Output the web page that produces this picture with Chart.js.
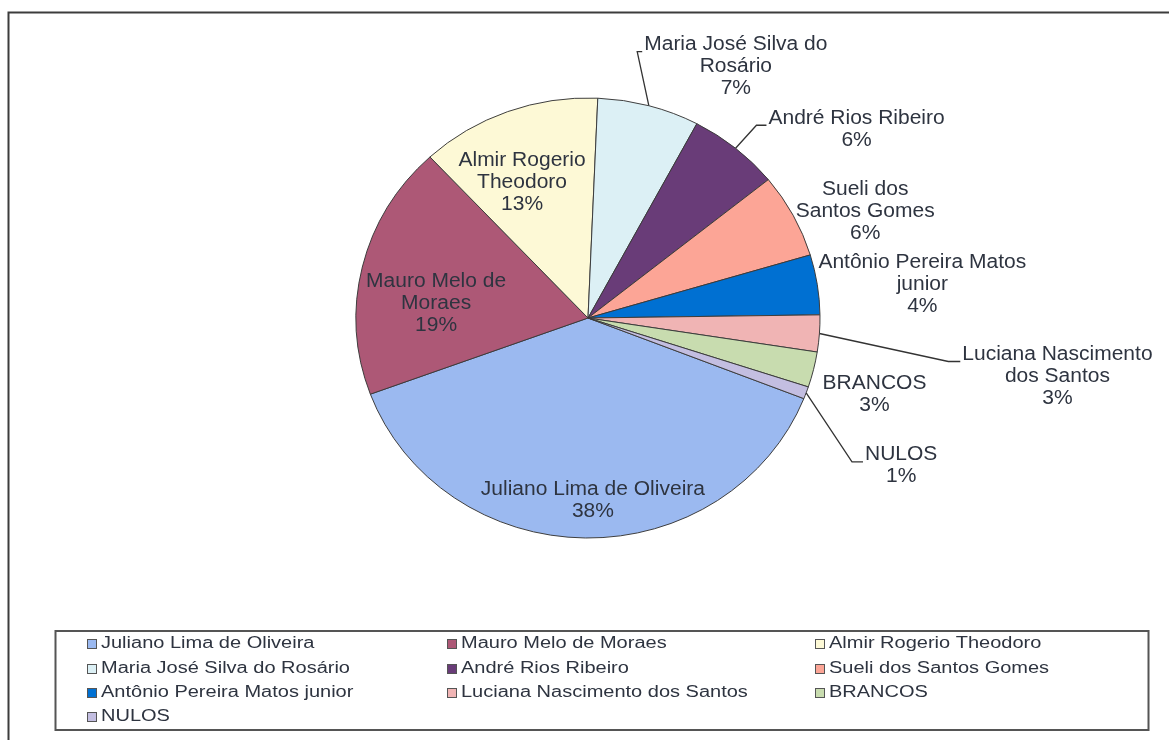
<!DOCTYPE html>
<html>
<head>
<meta charset="utf-8">
<script src="https://cdn.jsdelivr.net/npm/chart.js@4.4.1/dist/chart.umd.min.js"></script>
<style>
    html, body { margin: 0; padding: 0; background: #fff; }
    #wrap { position: relative; width: 1169px; height: 740px; overflow: hidden; }
    canvas { display: block; }
</style>
</head>
<body>
<div id="wrap"><canvas id="pie" width="1169" height="740"></canvas></div>
<script>
// dados da votação (percentuais)
const categories = [
    'Juliano Lima de Oliveira', 'Mauro Melo de Moraes', 'Almir Rogerio Theodoro',
    'Maria José Silva do Rosário', 'André Rios Ribeiro', 'Sueli dos Santos Gomes',
    'Antônio Pereira Matos junior', 'Luciana Nascimento dos Santos', 'BRANCOS', 'NULOS'
];
const values = [38.4, 18.7, 12.6, 7.1, 6.4, 6.2, 4.4, 2.7, 2.6, 0.9];
const colors = [
    '#9bb9f0', '#ad5876', '#fdf9d6', '#dcf0f5', '#693c78',
    '#fca596', '#0070d2', '#f0b4b4', '#c8dcaf', '#c3bee1'
];
// quebras de linha dos rótulos, como no gráfico original
const labelLines = [
    ['Juliano Lima de Oliveira'], ['Mauro Melo de', 'Moraes'], ['Almir Rogerio', 'Theodoro'],
    ['Maria José Silva do', 'Rosário'], ['André Rios Ribeiro'], ['Sueli dos', 'Santos Gomes'],
    ['Antônio Pereira Matos', 'junior'], ['Luciana Nascimento', 'dos Santos'], ['BRANCOS'], ['NULOS']
];

/* -------------------- posição dos rótulos -------------------- */
// [fator do raio, deslocamento x, deslocamento y] a partir do ângulo médio da fatia
const labelPlace = [
    [0.83, 7, 0], [0.673, 0, 20], [0.659, -13, 0],
    [1, 87, -39], [1, 121, -19], [1, 72, -4],
    [1, 105, 0], [1, 238, 43], [1, 61, 25], [1, 95, 73]
];
const leaderHook = [null, null, null, 5, 10, null, null, 12, null, 11]; // linha guia só nas fatias com "leader"

const RX = 232, RY = 220; // a pizza do scan é levemente achatada
const TEXT = '#2e3440';

const total = values.reduce((a, b) => a + b, 0);

function drawBlock(ctx, lines, cx, cy, lh, sx) {
    const top = cy - (lines.length - 1) * lh / 2;
    lines.forEach((t, i) => {
        ctx.save();
        ctx.translate(cx, top + i * lh);
        ctx.scale(sx, 1);
        ctx.fillText(t, 0, 0);
        ctx.restore();
    });
    return top;
}

const pieLook = {
    id: 'pieLook',
    beforeDatasetsDraw(chart) {
        const arc = chart.getDatasetMeta(0).data[0];
        const ctx = chart.ctx;
        ctx.save();
        ctx.translate(arc.x, arc.y);
        ctx.scale(1, RY / RX);
        ctx.translate(-arc.x, -arc.y);
    },
    afterDatasetsDraw(chart) {
        const ctx = chart.ctx;
        ctx.restore();

        const arcs = chart.getDatasetMeta(0).data;
        ctx.save();
        ctx.font = '20px "Liberation Sans", Arial, sans-serif';
        ctx.fillStyle = TEXT;
        ctx.strokeStyle = '#333';
        ctx.lineWidth = 1.3;
        ctx.textAlign = 'center';
        ctx.textBaseline = 'middle';
        const sx = 1.05, lh = 22;

        arcs.forEach((a, i) => {
            const mid = (a.startAngle + a.endAngle) / 2;
            const [k, dx, dy] = labelPlace[i];
            const ex = a.x + Math.cos(mid) * RX;
            const ey = a.y + Math.sin(mid) * RY;
            const cx = a.x + Math.cos(mid) * RX * k + dx;
            const cy = a.y + Math.sin(mid) * RY * k + dy;
            const lines = [...labelLines[i], Math.round(values[i] / total * 100) + '%'];
            const top = drawBlock(ctx, lines, cx, cy, lh, sx);

            if (leaderHook[i] !== null) {
                const w = Math.max(...lines.map(t => ctx.measureText(t).width)) * sx;
                const left = cx - ctx.measureText(lines[0]).width * sx / 2;
                const ly = top + 7;
                ctx.beginPath();
                ctx.moveTo(ex, ey);
                ctx.lineTo(left - 2 - leaderHook[i], ly);
                ctx.lineTo(left - 2, ly);
                ctx.stroke();
            }
        });
        ctx.restore();
    },
    afterDraw(chart) {
        const ctx = chart.ctx;
        ctx.save();
        // moldura da área do gráfico
        ctx.strokeStyle = '#3c3c3c';
        ctx.lineWidth = 2;
        ctx.beginPath();
        ctx.moveTo(8.5, 740);
        ctx.lineTo(8.5, 12.5);
        ctx.lineTo(1169, 12.5);
        ctx.stroke();

        // legenda
        ctx.strokeStyle = '#555';
        ctx.strokeRect(55.5, 631, 1093, 99);
        const colX = [87, 447, 815];
        const rowY = [644, 669, 693, 717];
        ctx.font = '16px "Liberation Sans", Arial, sans-serif';
        ctx.textBaseline = 'middle';
        ctx.textAlign = 'left';
        categories.forEach((name, i) => {
            const x = colX[i % 3], y = rowY[Math.floor(i / 3)];
            ctx.fillStyle = colors[i];
            ctx.fillRect(x, y - 5, 10, 10);
            ctx.strokeStyle = '#555';
            ctx.lineWidth = 1;
            ctx.strokeRect(x + 0.5, y - 4.5, 9, 9);
            ctx.fillStyle = TEXT;
            ctx.save();
            ctx.translate(x + 14, y);
            ctx.scale(1.25, 1);
            ctx.fillText(name, 0, 0);
            ctx.restore();
        });
        ctx.restore();
    }
};

new Chart(document.getElementById('pie'), {
    type: 'pie',
    data: {
        labels: categories,
        datasets: [{
            data: values,
            backgroundColor: colors,
            borderColor: '#3a3a3a',
            borderWidth: 1
        }]
    },
    options: {
        responsive: false,
        animation: false,
        rotation: 111.5,
        radius: RX,
        layout: { padding: { left: 356, right: 349, top: 86, bottom: 190 } },
        plugins: {
            legend: { display: false },
            tooltip: { enabled: false }
        }
    },
    plugins: [pieLook]
});
</script>
</body>
</html>
